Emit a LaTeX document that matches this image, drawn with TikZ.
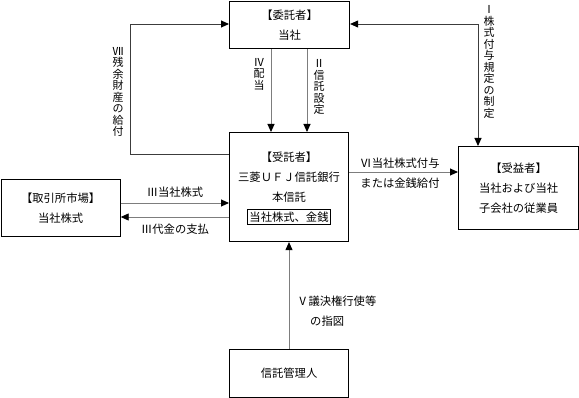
\documentclass[tikz,border=0pt]{standalone}
\usepackage{fontspec}
\newfontfamily\cjk{Noto Sans CJK JP}
\usetikzlibrary{arrows.meta}
\definecolor{lng}{RGB}{125,125,125}
\definecolor{lnd}{RGB}{60,60,60}
\tikzset{
  box/.style={draw=black, line width=1.1pt, inner sep=0pt, align=center, font=\cjk\fontsize{11.3}{20}\selectfont},
  lbl/.style={inner sep=0pt, align=center, font=\cjk\fontsize{11.3}{20}\selectfont},
  vlbl/.style={inner sep=0pt, align=center, font=\cjk\fontsize{11}{11.5}\selectfont},
  tip/.style={-{Triangle[length=8pt,width=7pt,color=black]}},
  grayline/.style={draw=lng, line width=0.9pt},
  darkline/.style={draw=lnd, line width=0.9pt},
}
\begin{document}
\begin{tikzpicture}[x=1pt,y=-1pt]
\useasboundingbox (0,0) rectangle (579,398);
% boxes
\node[box, minimum width=120pt, minimum height=47pt, anchor=north west] (top) at (229,1) {【委託者】\\当社};
\node[box, minimum width=119pt, minimum height=109pt, anchor=north west] (tru) at (229,132) {};
\node[lbl] (t1) at (289,157) {【受託者】};
\node[lbl] (t2) at (289,177) {三菱ＵＦＪ信託銀行};
\node[lbl] (t3) at (289,197) {本信託};
\node[lbl, draw=black, line width=0.8pt, inner xsep=2pt, inner ysep=2pt] (t4) at (289,217) {当社株式、金銭};
\node[box, minimum width=119pt, minimum height=57pt, anchor=north west] (mkt) at (0.6,179) {【取引所市場】\\当社株式};
\node[box, minimum width=120pt, minimum height=83pt, anchor=north west] (ben) at (458,146) {【受益者】\\当社および当社\\子会社の従業員};
\node[box, minimum width=119pt, minimum height=48pt, anchor=north west] (adm) at (229,349) {信託管理人};
% IV and II
\draw[grayline, tip] ([xshift=42pt]top.south west) -- ([xshift=42pt]tru.north west);
\draw[grayline, tip] ([xshift=78pt]top.south west) -- ([xshift=78pt]tru.north west);
\node[vlbl] (l4) at (259,74) {Ⅳ\\配\\当};
\node[vlbl] (l2) at (319,87) {Ⅱ\\信\\託\\設\\定};
% VII
\coordinate (v7a) at ([yshift=-22pt]tru.north west);
\coordinate (v7b) at (130,154);
\draw[darkline, tip] (v7a) -- (v7b) |- ([yshift=-23pt]top.north west);
\node[vlbl] (l7) at (118,92) {Ⅶ\\残\\余\\財\\産\\の\\給\\付};
% I
\draw[darkline, {Triangle[length=8pt,width=7pt,color=black]}-{Triangle[length=8pt,width=7pt,color=black]}] ([yshift=-23pt]top.north east) -| ([xshift=20pt]ben.north west);
\node[vlbl] (l1) at (489,62) {Ⅰ\\株\\式\\付\\与\\規\\定\\の\\制\\定};
% VI
\coordinate (v6) at ([yshift=-40pt]tru.north east);
\draw[grayline, tip] (v6) -- (v6 -| ben.west);
\node[lbl] (l6a) at (400,163) {Ⅵ当社株式付与};
\node[lbl] (l6b) at (400,183) {または金銭給付};
% III
\coordinate (v3a) at ([yshift=-24pt]mkt.north east);
\draw[grayline, tip] (v3a) -- (v3a -| tru.west);
\coordinate (v3b) at ([yshift=-38pt]mkt.north east);
\draw[grayline, tip] (v3b -| tru.west) -- (v3b);
\node[lbl] (l3a) at (175,192) {Ⅲ当社株式};
\node[lbl] (l3b) at (175,229) {Ⅲ代金の支払};
% V
\draw[grayline, tip] ([xshift=60pt]adm.north west) -- ([xshift=60pt]tru.south west);
\node[lbl, anchor=west] (l5a) at (297,301) {Ⅴ議決権行使等};
\node[lbl, anchor=west] (l5b) at (310,321) {の指図};
\end{tikzpicture}
\end{document}
